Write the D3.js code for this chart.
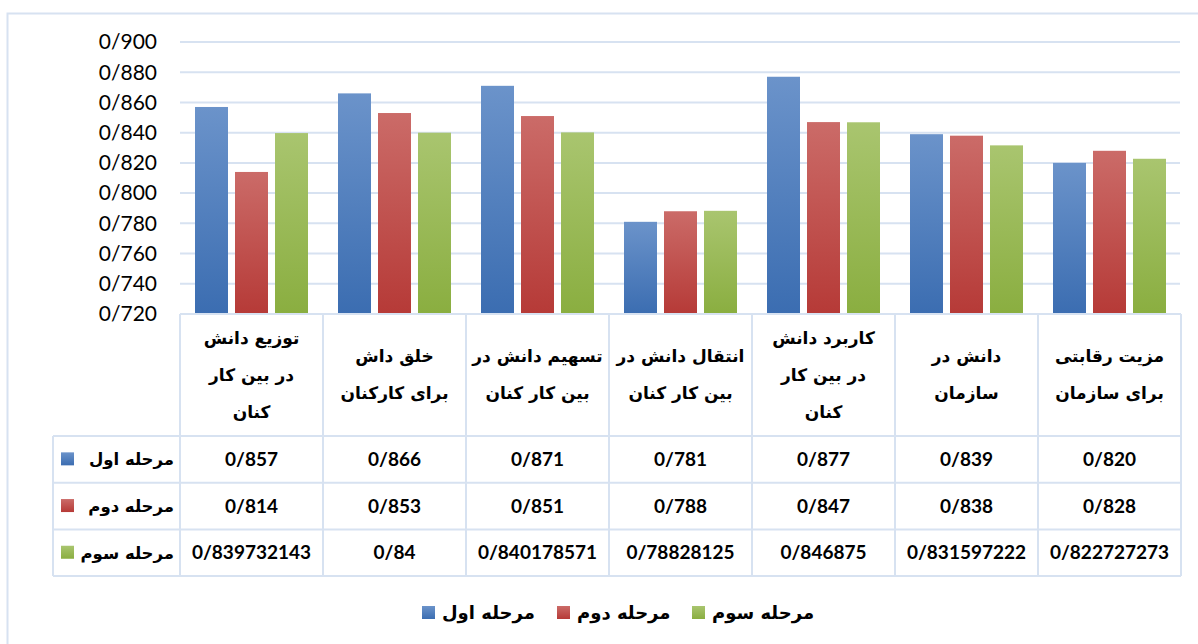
<!DOCTYPE html>
<html>
<head>
<meta charset="utf-8">
<script src="https://cdn.jsdelivr.net/npm/d3@7"></script>
<style>
  html, body { margin: 0; padding: 0; background: #fff; }
  svg { display: block; }
</style>
</head>
<body>
<div id="chart"></div>
<script>
// == DATA ==
const categories = [
  ['توزیع دانش', 'در بین کار', 'کنان'],
  ['خلق داش', 'برای کارکنان'],
  ['تسهیم دانش در', 'بین کار کنان'],
  ['انتقال دانش در', 'بین کار کنان'],
  ['کاربرد دانش', 'در بین کار', 'کنان'],
  ['دانش در', 'سازمان'],
  ['مزیت  رقابتی', 'برای سازمان']
];
const seriesNames = ['مرحله اول', 'مرحله دوم', 'مرحله سوم'];
const stage1 = [0.857, 0.866, 0.871, 0.781, 0.877, 0.839, 0.820];
const stage2 = [0.814, 0.853, 0.851, 0.788, 0.847, 0.838, 0.828];
const stage3 = [0.839732143, 0.84, 0.840178571, 0.78828125, 0.846875, 0.831597222, 0.822727273];
const yTicks = [0.72, 0.74, 0.76, 0.78, 0.80, 0.82, 0.84, 0.86, 0.88, 0.90];

// == CONFIG ==
const W = 1198, H = 644;
const PLOT = { left: 180, right: 1181, top: 42, bottom: 314 };
const TABLE_LEFT = 53;
const ROW_TOP = 436, ROW_H = 46.7;
const GRID = '#d7e2f1';
const FONT_NUM = 'Lato, "Open Sans", sans-serif';
const FONT_FA = '"DejaVu Sans", sans-serif';
const COLORS = [
  { top: '#6b93ca', bottom: '#3b6db1' },
  { top: '#cb6b68', bottom: '#b63a37' },
  { top: '#a9c56f', bottom: '#8aae40' }
];

const series = [stage1, stage2, stage3];

// == SETUP ==
const svg = d3.select('#chart').append('svg')
  .attr('width', W)
  .attr('height', H);

const defs = svg.append('defs');
COLORS.forEach((c, i) => {
  const g = defs.append('linearGradient')
    .attr('id', 'grad' + i)
    .attr('x1', 0).attr('y1', 0).attr('x2', 0).attr('y2', 1);
  g.append('stop').attr('offset', '0%').attr('stop-color', c.top);
  g.append('stop').attr('offset', '100%').attr('stop-color', c.bottom);
});

// outer chart border (runs off the picture at right and bottom)
svg.append('rect')
  .attr('x', 7.5).attr('y', 13.5)
  .attr('width', 1220).attr('height', 660)
  .attr('fill', 'none')
  .attr('stroke', GRID)
  .attr('stroke-width', 2);

// == SCALES ==
const x0 = d3.scaleBand()
  .domain(d3.range(categories.length))
  .range([PLOT.left, PLOT.right])
  .padding(0);

const x1 = d3.scaleBand()
  .domain(d3.range(series.length))
  .range([15, x0.bandwidth() - 15])
  .paddingInner(0.175);

const y = d3.scaleLinear()
  .domain([0.72, 0.90])
  .range([PLOT.bottom, PLOT.top]);

// == GRID + Y AXIS ==
svg.append('g')
  .selectAll('line')
  .data(yTicks.slice(1))
  .join('line')
  .attr('x1', PLOT.left)
  .attr('x2', PLOT.right - 1)
  .attr('y1', d => y(d))
  .attr('y2', d => y(d))
  .attr('stroke', GRID)
  .attr('stroke-width', 2);

const fmtAxis = d => d3.format('.3f')(d).replace('.', '/');

svg.append('g')
  .selectAll('text')
  .data(yTicks)
  .join('text')
  .attr('x', 157)
  .attr('y', d => y(d))
  .attr('dy', '0.35em')
  .attr('text-anchor', 'end')
  .attr('font-family', FONT_NUM)
  .attr('font-size', '21px')
  .attr('fill', '#000')
  .text(fmtAxis);

// == BARS ==
const groups = svg.append('g')
  .selectAll('g')
  .data(categories.map((c, i) => i))
  .join('g')
  .attr('transform', i => `translate(${x0(i)},0)`);

groups.selectAll('rect')
  .data(i => series.map((s, k) => ({ k, v: s[i] })))
  .join('rect')
  .attr('x', d => x1(d.k))
  .attr('width', x1.bandwidth())
  .attr('y', d => y(d.v))
  .attr('height', d => y(0.72) - y(d.v))
  .attr('fill', d => `url(#grad${d.k})`);

// == DATA TABLE ==
const gTable = svg.append('g');
const rowY = r => ROW_TOP + r * ROW_H;

// horizontal lines
gTable.append('line')
  .attr('x1', PLOT.left).attr('x2', PLOT.right)
  .attr('y1', PLOT.bottom).attr('y2', PLOT.bottom)
  .attr('stroke', GRID).attr('stroke-width', 2);
d3.range(series.length + 1).forEach(r => {
  gTable.append('line')
    .attr('x1', TABLE_LEFT).attr('x2', PLOT.right)
    .attr('y1', rowY(r)).attr('y2', rowY(r))
    .attr('stroke', GRID).attr('stroke-width', 2);
});

// vertical lines
d3.range(categories.length + 1).forEach(i => {
  const xx = i < categories.length ? x0(i) : PLOT.right;
  gTable.append('line')
    .attr('x1', xx).attr('x2', xx)
    .attr('y1', PLOT.bottom).attr('y2', rowY(series.length))
    .attr('stroke', GRID).attr('stroke-width', 2);
});
gTable.append('line')
  .attr('x1', TABLE_LEFT).attr('x2', TABLE_LEFT)
  .attr('y1', ROW_TOP).attr('y2', rowY(series.length))
  .attr('stroke', GRID).attr('stroke-width', 2);

// category header labels
const LINE_H = 37;
categories.forEach((lines, i) => {
  const cx = x0(i) + x0.bandwidth() / 2;
  const cy = (PLOT.bottom + ROW_TOP) / 2;
  const startY = cy - (lines.length - 1) * LINE_H / 2;
  lines.forEach((ln, j) => {
    gTable.append('text')
      .attr('x', cx)
      .attr('y', startY + j * LINE_H)
      .attr('dy', '0.35em')
      .attr('text-anchor', 'middle')
      .attr('font-family', FONT_FA)
      .attr('font-weight', 'bold')
      .attr('font-size', '17px')
      .attr('fill', '#000')
      .text(ln);
  });
});

// row headers with legend keys
seriesNames.forEach((name, k) => {
  const cy = rowY(k) + ROW_H / 2;
  gTable.append('rect')
    .attr('x', 61).attr('y', cy - 7)
    .attr('width', 13).attr('height', 13)
    .attr('fill', `url(#grad${k})`);
  gTable.append('text')
    .attr('x', 174)
    .attr('y', cy)
    .attr('dy', '0.35em')
    .attr('text-anchor', 'end')
    .attr('font-family', FONT_FA)
    .attr('font-weight', 'bold')
    .attr('font-size', '16.5px')
    .attr('fill', '#000')
    .text(name);
});

// value cells: first two stages are shown with 3 decimals, third as stored
const fmtCell = (v, k) => (k < 2 ? v.toFixed(3) : String(v)).replace('.', '/');
series.forEach((vals, k) => {
  const cy = rowY(k) + ROW_H / 2;
  vals.forEach((v, i) => {
    gTable.append('text')
      .attr('x', x0(i) + x0.bandwidth() / 2)
      .attr('y', cy)
      .attr('dy', '0.35em')
      .attr('text-anchor', 'middle')
      .attr('font-family', FONT_NUM)
      .attr('font-weight', 'bold')
      .attr('font-size', '19px')
      .attr('fill', '#000')
      .text(fmtCell(v, k));
  });
});

// == LEGEND ==
const legendX = [422, 557, 692];
const gLegend = svg.append('g');
seriesNames.forEach((name, k) => {
  gLegend.append('rect')
    .attr('x', legendX[k]).attr('y', 606)
    .attr('width', 13).attr('height', 13)
    .attr('fill', `url(#grad${k})`);
  gLegend.append('text')
    .attr('x', legendX[k] + 20)
    .attr('y', 613)
    .attr('dy', '0.35em')
    .attr('text-anchor', 'start')
    .attr('font-family', FONT_FA)
    .attr('font-weight', 'bold')
    .attr('font-size', '18px')
    .attr('fill', '#000')
    .text(name);
});
</script>
</body>
</html>
